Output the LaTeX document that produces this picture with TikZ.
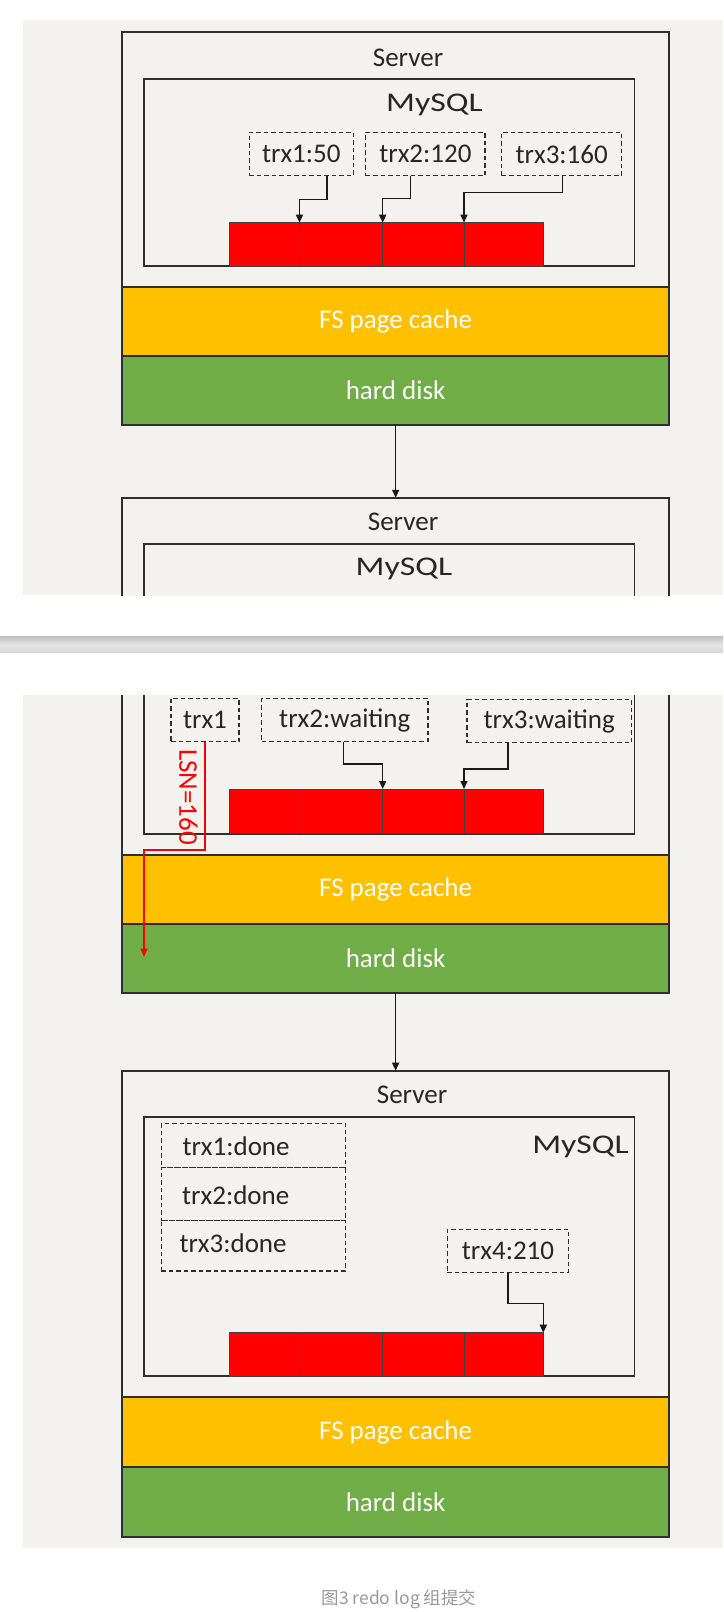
\documentclass[tikz,border=0pt]{standalone}
\usepackage{fontspec}
\usepackage{graphicx}
\setmainfont{Carlito}
\newfontfamily\cjkfont{Noto Sans CJK SC}
\usetikzlibrary{arrows.meta}
\definecolor{bgpanel}{HTML}{F3F2EE}
\definecolor{fsyel}{HTML}{FFC000}
\definecolor{hdgreen}{HTML}{70AD47}
\definecolor{redlog}{HTML}{FF0000}
\definecolor{linec}{HTML}{2E2E2E}
\definecolor{captc}{HTML}{999999}
\begin{document}
\begin{tikzpicture}[x=1pt,y=-1pt,
  sz/.style n args={2}{minimum width=#1,minimum height=#2},
  solidbox/.style={draw=linec,line width=1.9pt,fill=bgpanel,inner sep=0pt,outer sep=0pt},
  fsbox/.style={draw=linec,line width=1.9pt,fill=fsyel,inner sep=0pt,outer sep=0pt,text=white,font=\fontsize{27}{30}\selectfont},
  hdbox/.style={draw=linec,line width=1.9pt,fill=hdgreen,inner sep=0pt,outer sep=0pt,text=white,font=\fontsize{27}{30}\selectfont},
  redcell/.style={draw=black!75,line width=1pt,fill=redlog,inner sep=0pt,outer sep=0pt},
  dbox/.style={draw=linec,line width=1.5pt,dash pattern=on 4.5pt off 3pt,inner sep=0pt,outer sep=0pt,text=black!85,font=\fontsize{27}{30}\selectfont},
  lbl/.style={inner sep=0pt,text=black!85,font=\fontsize{27}{30}\selectfont},
  arr/.style={draw=black!90,line width=1.5pt,-{Triangle[length=8pt,width=7pt]}},
  redarr/.style={draw=redlog,line width=1.4pt,-{Triangle[length=8pt,width=7pt]}},
  lsn/.style={inner sep=0pt,text=redlog,font=\fontsize{27}{30}\selectfont}
]
\useasboundingbox (0,0) rectangle (723,1612);
\fill[white] (0,0) rectangle (723,1612);
% backgrounds
\fill[bgpanel] (23,20) rectangle (723,595);
\fill[bgpanel] (23,695) rectangle (723,1548.3);
\shade[top color=black!24,bottom color=black!16,middle color=black!10] (0,636.7) rectangle (723,652.7);

% ---------------- panel 1 ----------------
\begin{scope}
\clip (23,20) rectangle (723,595);
\node[solidbox,sz={546.7}{254.7}] (srv1) at (395.65,159.65) {};
\node[fsbox,sz={546.7}{69}] (fs1) at (395.65,321.5) {FS page cache};
\node[hdbox,sz={546.7}{69}] (hd1) at (395.65,390.5) {hard disk};
\node[lbl] (srv1t) at (408,57.6) {Server};
\node[solidbox,sz={490.2}{187}] (my1) at (389.4,172.5) {};
\node[lbl] (my1t) at (434.5,105) {\scalebox{1.25}[1]{MySQL}};
\node[redcell,sz={70.2}{43.3}] (r1a) at (264.4,244.35) {};
\node[redcell,sz={83.2}{43.3}] (r1b) at (341.1,244.35) {};
\node[redcell,sz={81.3}{43.3}] (r1c) at (423.35,244.35) {};
\node[redcell,sz={79.3}{43.3}] (r1d) at (503.65,244.35) {};
\node[dbox,sz={104}{43.4}] (t11) at (301.3,154) {trx1:50};
\node[dbox,sz={119.3}{43.4}] (t12) at (425.35,154) {trx2:120};
\node[dbox,sz={120}{43.4}] (t13) at (561.7,154) {trx3:160};
\coordinate (b11) at (327,199.3);
\coordinate (b12) at (410.7,198.3);
\coordinate (b13) at (562.3,192.7);
\draw[arr] (t11.south -| b11) -- (b11) -| (r1b.north west);
\draw[arr] (t12.south -| b12) -- (b12) -| (r1c.north west);
\draw[arr] (t13.south -| b13) -- (b13) -| (r1d.north west);
\node[solidbox,sz={546.7}{140}] (srv2a) at (395.65,567.8) {};
\node[lbl] (srv2at) at (403,521.5) {Server};
\node[solidbox,sz={490.2}{90}] (my2a) at (389.4,589) {};
\node[lbl] (my2at) at (404,569) {\scalebox{1.25}[1]{MySQL}};
\draw[arr] (hd1.south) -- (srv2a.north);
\end{scope}

% ---------------- panel 2 + 3 ----------------
\begin{scope}
\clip (23,695) rectangle (723,1548.3);
\node[solidbox,sz={546.7}{195}] (srv2) at (395.65,757.5) {};
\node[fsbox,sz={546.7}{69.3}] (fs2) at (395.65,889.65) {FS page cache};
\node[hdbox,sz={546.7}{68.4}] (hd2) at (395.65,958.5) {hard disk};
\node[solidbox,sz={490.2}{173.7}] (my2) at (389.4,746.85) {};
\node[redcell,sz={70.2}{44.7}] (r2a) at (264.4,811.35) {};
\node[redcell,sz={83.2}{44.7}] (r2b) at (341.1,811.35) {};
\node[redcell,sz={81.3}{44.7}] (r2c) at (423.35,811.35) {};
\node[redcell,sz={79.3}{44.7}] (r2d) at (503.65,811.35) {};
\node[dbox,sz={68}{43.4}] (t21) at (205,720) {trx1};
\node[dbox,sz={166.2}{43.4}] (t22) at (344.8,720) {trx2:waiting};
\node[dbox,sz={164.5}{43}] (t23) at (549.25,721) {trx3:waiting};
\coordinate (b22) at (343.5,764);
\coordinate (b23) at (508,769);
\draw[arr] (t22.south -| b22) -- (b22) -| (r2c.north west);
\draw[arr] (t23.south -| b23) -- (b23) -| (r2d.north west);
\coordinate (lsnturn) at (205,850);
\coordinate (lsnend) at (144,956.7);
\draw[redarr] (t21.south) -- (lsnturn) -| (lsnend);
\node[lsn,rotate=-90] (lsnt) at (188.3,797) {LSN=160};

% panel 3
\node[solidbox,sz={546.7}{326.3}] (srv3) at (395.65,1233.85) {};
\node[fsbox,sz={546.7}{70}] (fs3) at (395.65,1432) {FS page cache};
\node[hdbox,sz={546.7}{69.7}] (hd3) at (395.65,1501.85) {hard disk};
\node[lbl] (srv3t) at (412,1095) {Server};
\node[solidbox,sz={490.2}{259.3}] (my3) at (389.4,1246.35) {};
\node[lbl,anchor=east] (my3t) at (629,1147) {\scalebox{1.25}[1]{MySQL}};
\node[dbox,sz={184.4}{44}] (d1) at (253.5,1145.3) {};
\node[dbox,sz={184.4}{53.4}] (d2) at (253.5,1194) {};
\node[dbox,sz={184.4}{50.3}] (d3) at (253.5,1245.85) {};
\node[lbl,anchor=west] (d1t) at (182.3,1146) {trx1:done};
\node[lbl,anchor=west] (d2t) at (182,1195) {trx2:done};
\node[lbl,anchor=west] (d3t) at (179.3,1243.3) {trx3:done};
\node[redcell,sz={70.2}{43.3}] (r3a) at (264.4,1354.35) {};
\node[redcell,sz={83.2}{43.3}] (r3b) at (341.1,1354.35) {};
\node[redcell,sz={81.3}{43.3}] (r3c) at (423.35,1354.35) {};
\node[redcell,sz={79.3}{43.3}] (r3d) at (503.65,1354.35) {};
\node[dbox,sz={121.4}{43}] (t4) at (508,1250.8) {trx4:210};
\coordinate (b4) at (508,1303.3);
\draw[arr] (t4.south) -- (b4) -| (r3d.north east);
\draw[arr] (hd2.south) -- (srv3.north);
\end{scope}

\node[font=\cjkfont\fontsize{17.5}{20}\selectfont,text=captc,inner sep=0pt] (cap) at (399,1599) {图3 redo log 组提交};
\end{tikzpicture}
\end{document}
